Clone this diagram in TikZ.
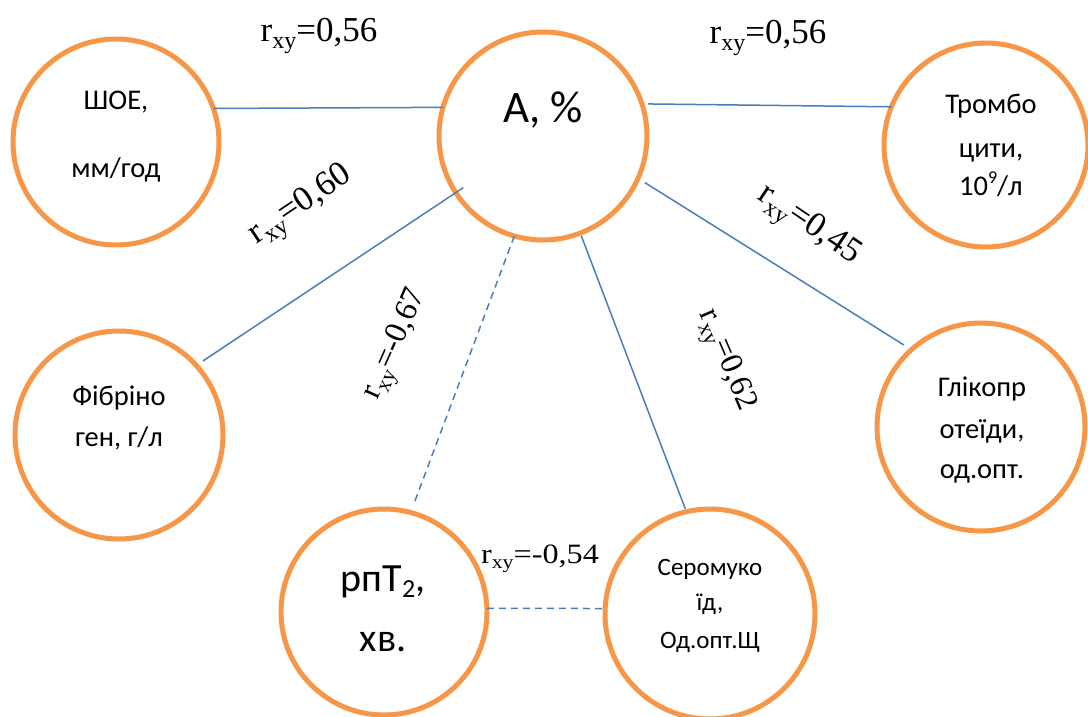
\documentclass[tikz,border=0pt]{standalone}
\usepackage{fontspec}
\setmainfont{Liberation Serif}
\newfontfamily\carl{Carlito}
\definecolor{orng}{HTML}{F79646}
\definecolor{lblue}{HTML}{4A7EBB}
\newcommand\rlab[3]{\fontsize{#1}{#1}\selectfont r\raisebox{-0.2em}{\fontsize{#2}{#2}\selectfont xy}=#3}
\tikzset{
 circ/.style={circle, draw=orng, line width=5pt, inner sep=0pt, outer sep=0pt},
 conn/.style={draw=lblue, line width=1.5pt},
 dconn/.style={conn, dash pattern=on 7pt off 5pt},
 lab/.style={inner sep=0pt},
 txt/.style={inner sep=0pt, anchor=base, font=\carl\fontsize{28.5}{28.5}\selectfont},
 txts/.style={txt, font=\carl\fontsize{25}{25}\selectfont},
 txtb/.style={txt, font=\carl\fontsize{40}{40}\selectfont},
}
\begin{document}
\begin{tikzpicture}[x=1pt,y=-1pt]
\useasboundingbox (0,0) rectangle (1088,716);
% circles
\node[circ, minimum size=208pt] (A) at (543,136) {};
\node[circ, minimum size=206pt] (shoe) at (116,142) {};
\node[circ, minimum size=204pt] (trombo) at (986,145) {};
\node[circ, minimum size=208pt] (fib) at (119,435) {};
\node[circ, minimum size=208pt] (glik) at (981,427) {};
\node[circ, minimum size=206pt] (rpt) at (384,612) {};
\node[circ, minimum size=210pt] (sero) at (710,614) {};
% connectors
\draw[conn] (shoe.19.5) -- (A.164);
\draw[conn, shorten <=6pt] (A.18) -- (trombo.158);
\draw[conn, shorten <=8pt, shorten >=9pt] (A.-24) -- (glik.132);
\draw[conn, shorten <=-9pt, shorten >=8pt] (A.213) -- (fib.42);
\draw[dconn, shorten >=10pt] (A.-106) -- (rpt.75);
\draw[conn, shorten <=3pt, shorten >=3pt] (A.-69) -- (sero.103);
\draw[dconn] (rpt.2) -- (sero.177);
% correlation labels
\node[lab, anchor=base] (l1) at (319,41) {\rlab{35}{24}{0,56}};
\node[lab, anchor=base] (l2) at (768,43) {\rlab{35}{24}{0,56}};
\node[lab, rotate=34] (l3) at (302,207) {\rlab{35}{24}{0,60}};
\node[lab, rotate=-34] (l4) at (808,227) {\rlab{35}{24}{0,45}};
\node[lab, rotate=66] (l5) at (397,345) {\rlab{32}{22}{-0,67}};
\node[lab, rotate=-67] (l6) at (725,361) {\rlab{32}{22}{0,62}};
\node[lab, anchor=base, xscale=1.15] (l7) at (540,563) {\rlab{28}{19}{-0,54}};
% circle texts
\node[txt, font=\carl\fontsize{45}{45}\selectfont] (At) at (543,122) {A, \%};
\node[txt] (s1) at (116,109) {ШОЕ,};
\node[txt] (s2) at (116,177) {мм/год};
\node[txt] (t1) at (991,113) {Тромбо};
\node[txt] (t2) at (991,157) {цити,};
\node[txt] (t3) at (991,195) {10\raisebox{0.42em}{\fontsize{18}{18}\selectfont 9}/л};
\node[txt] (f1) at (119,405) {Фібріно};
\node[txt] (f2) at (119,446) {ген, г/л};
\node[txt] (g1) at (982,396) {Глікопр};
\node[txt] (g2) at (982,438) {отеїди,};
\node[txt] (g3) at (982,478) {од.опт.};
\node[txtb] (r1) at (383,591) {рпТ\raisebox{-0.15em}{\fontsize{26}{26}\selectfont 2},};
\node[txtb] (r2) at (383,651) {хв.};
\node[txts] (c1) at (710,575) {Серомуко};
\node[txts] (c2) at (710,610) {їд,};
\node[txts] (c3) at (710,648) {Од.опт.Щ};
\end{tikzpicture}
\end{document}
